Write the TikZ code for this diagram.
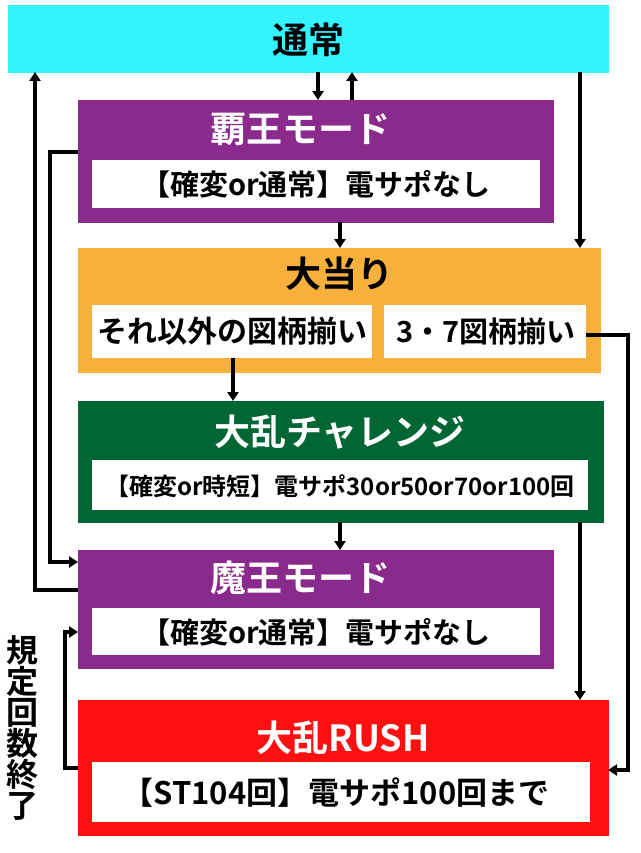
\documentclass[tikz,border=0pt]{standalone}
\usepackage{fontspec}
\setmainfont{Noto Sans CJK JP Bold}
\usetikzlibrary{arrows.meta}
\definecolor{cy}{HTML}{33F3FF}\definecolor{pu}{HTML}{8B2A8D}\definecolor{og}{HTML}{F8B03C}
\definecolor{gr}{HTML}{006633}\definecolor{rd}{HTML}{FF1010}
\newcommand{\fs}[1]{\fontsize{#1}{#1}\selectfont}
\begin{document}
\begin{tikzpicture}[x=1pt,y=-1pt,
 box/.style={draw=#1,line width=1pt,fill=#1,anchor=north west,inner sep=0},
 wb/.style={fill=white,anchor=north west,inner sep=0},
 ttl/.style={font=\fs{36}},
 ar/.style={line width=3.5pt,-{Triangle[length=9pt,width=11pt]}}]
\useasboundingbox (0,0) rectangle (640,853);
\node[box=cy,minimum width=600,minimum height=67] (tsu) at (8,5) {};
\node[ttl] at (308,40) {通常};
\node[box=pu,minimum width=475,minimum height=122] (ha) at (78,100) {};
\node[ttl,white] at (300,129) {覇王モード};
\node[wb,minimum width=448,minimum height=48] (haw) at (92,160) {};
\node[font=\fs{29}] at (316,184) {【確変or通常】電サポなし};
\node[box=og,minimum width=522,minimum height=124] (oa) at (78,248) {};
\node[ttl] at (339,274) {大当り};
\node[wb,minimum width=280,minimum height=53] (so) at (92,305) {};
\node[font=\fs{30}] at (232,331) {それ以外の図柄揃い};
\node[wb,minimum width=202,minimum height=53] (s7) at (384,305) {};
\node[font=\fs{29}] at (486,331) {3・7図柄揃い};
\node[box=gr,minimum width=525,minimum height=121] (ch) at (78,401) {};
\node[ttl,white] at (340,432) {大乱チャレンジ};
\node[wb,minimum width=496,minimum height=50] (chw) at (92,460) {};
\node[font=\fs{24}] at (340,486) {【確変or時短】電サポ30or50or70or100回};
\node[box=pu,minimum width=475,minimum height=118] (ma) at (78,550) {};
\node[ttl,white] at (300,578) {魔王モード};
\node[wb,minimum width=448,minimum height=47] (maw) at (92,608) {};
\node[font=\fs{29}] at (316,632) {【確変or通常】電サポなし};
\node[box=rd,minimum width=530,minimum height=135] (ru) at (78,700) {};
\node[ttl,white] at (343,738) {大乱RUSH};
\node[wb,minimum width=498,minimum height=60] (ruw) at (92,762) {};
\node[font=\fs{31}] at (336,792) {【ST104回】電サポ100回まで};
\node[font=\fs{32},align=center,inner sep=0] (kt) at (22,728) {規\\[-1pt]定\\[-1pt]回\\[-1pt]数\\[-1pt]終\\[-1pt]了};
% arrows
\draw[ar] (318,72) -- (318,100);
\draw[ar] (352,100) -- (352,72);
\draw[ar] (580,72) -- (580,248);
\draw[ar] (340,222) -- (340,248);
\draw[ar] (78,590) -- (35,590) -- (35,72);
\draw[ar] (78,152) -- (50,152) -- (50,562) -- (78,562);
\draw[ar] (233,358) -- (233,401);
\draw[ar] (586,335) -- (628,335) -- (628,770) -- (608,770);
\draw[ar] (340,522) -- (340,550);
\draw[ar] (580,522) -- (580,700);
\draw[ar] (78,768) -- (65,768) -- (65,632) -- (78,632);
\end{tikzpicture}
\end{document}
